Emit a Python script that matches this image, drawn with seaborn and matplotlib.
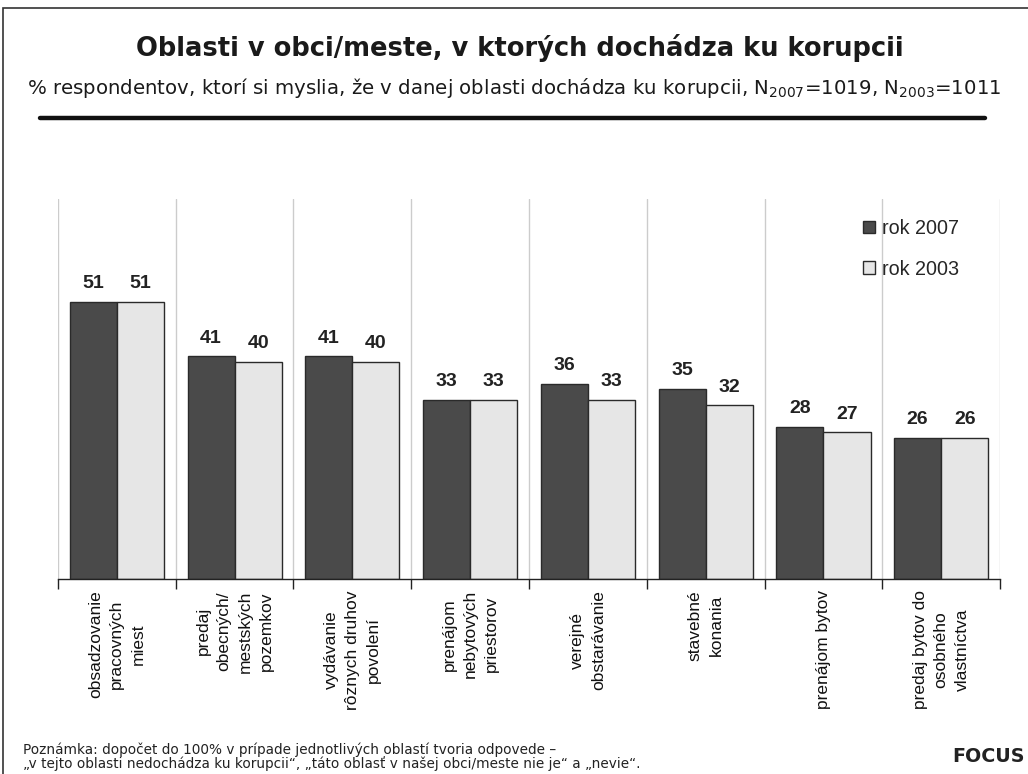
import numpy as np
import pandas as pd
import matplotlib.pyplot as plt
import seaborn as sns

# oblasti a percenta
oblasti = ['obsadzovanie\npracovných\nmiest',
           'predaj\nobecných/\nmestských\npozemkov',
           'vydávanie\nrôznych druhov\npovolení',
           'prenájom\nnebytových\npriestorov',
           'verejné\nobstarávanie',
           'stavebné\nkonania',
           'prenájom bytov',
           'predaj bytov do\nosobného\nvlastníctva']
rok_2007 = [51, 41, 41, 33, 36, 35, 28, 26]
rok_2003 = [51, 40, 40, 33, 33, 32, 27, 26]
roky = ['rok 2007', 'rok 2003']

df = pd.DataFrame({
    'Oblast': oblasti * 2,
    'Rok': [roky[0]] * len(oblasti) + [roky[1]] * len(oblasti),
    'Percento': rok_2007 + rok_2003,
})

sns.set_style('white')
plt.rcParams['font.family'] = ['Liberation Sans', 'DejaVu Sans']

fig = plt.figure(figsize=(10.28, 7.74), dpi=100)
ax = fig.add_axes([0.0564, 0.2519, 0.9164, 0.491])

sns.barplot(data=df, x='Oblast', y='Percento', hue='Rok',
            palette=['#4a4a4a', '#e6e6e6'], width=0.8,
            edgecolor='#2a2a2a', linewidth=1, ax=ax)

for c in ax.containers:
    ax.bar_label(c, fmt='%d', padding=7, fontsize=14, fontweight='bold', color='#222222')

ax.set_ylim(0, 70)
ax.set_xlim(-0.5, len(oblasti) - 0.5)
ax.set_xlabel('')
ax.set_ylabel('')
ax.set_yticks([])

# mriezka medzi kategoriami
hranice = np.arange(len(oblasti) + 1) - 0.5
ax.set_xticks(hranice, minor=True)
ax.tick_params(axis='x', which='minor', length=7, width=1, color='#222222', direction='out', bottom=True)
ax.tick_params(axis='x', which='major', length=0, pad=8, labelsize=12.5, labelcolor='#111111')
ax.set_xticks(range(len(oblasti)))
ax.set_xticklabels(oblasti, rotation=90, va='top', ha='center', multialignment='center',
                   linespacing=1.5)
for h in hranice:
    ax.axvline(h, color='#cccccc', lw=1, zorder=0)

for s in ['top', 'left', 'right']:
    ax.spines[s].set_visible(False)
ax.spines['bottom'].set_color('#222222')
ax.spines['bottom'].set_linewidth(1)

ax.legend(loc='upper left', bbox_to_anchor=(863 / 1028, 1 - 219 / 774), bbox_transform=fig.transFigure,
          frameon=False, fontsize=14.2, borderpad=0, borderaxespad=0,
          handlelength=0.6, handleheight=0.6, handletextpad=0.35, labelspacing=1.1)

fig.text(0.506, 0.938, 'Oblasti v obci/meste, v ktorých dochádza ku korupcii',
         ha='center', va='center', fontsize=18.5, fontweight='bold', family='DejaVu Sans', color='#1a1a1a')
fig.text(0.5, 0.886, '% respondentov, ktorí si myslia, že v danej oblasti dochádza ku korupcii, '
         'N$_{2007}$=1019, N$_{2003}$=1011',
         ha='center', va='center', fontsize=14.2, family='DejaVu Sans', color='#1a1a1a')
fig.add_artist(plt.Line2D([0.039, 0.958], [0.847, 0.847], color='#111111', lw=3.2))

fig.text(0.022, 0.004, 'Poznámka: dopočet do 100% v prípade jednotlivých oblastí tvoria odpovede –\n'
         '„v tejto oblasti nedochádza ku korupcii“, „táto oblasť v našej obci/meste nie je“ a „nevie“.',
         ha='left', va='bottom', fontsize=9.8, family='DejaVu Sans', color='#222222', linespacing=0.95)
fig.text(0.997, 0.022, 'FOCUS', ha='right', va='center', fontsize=13.7, fontweight='bold',
         family='DejaVu Sans', color='#222222')

fig.add_artist(plt.Rectangle((0.003, -0.01), 1.05, 1.0, fill=False, edgecolor='#333333', lw=1.2,
                             transform=fig.transFigure))

fig.savefig('out.png', dpi=100)
